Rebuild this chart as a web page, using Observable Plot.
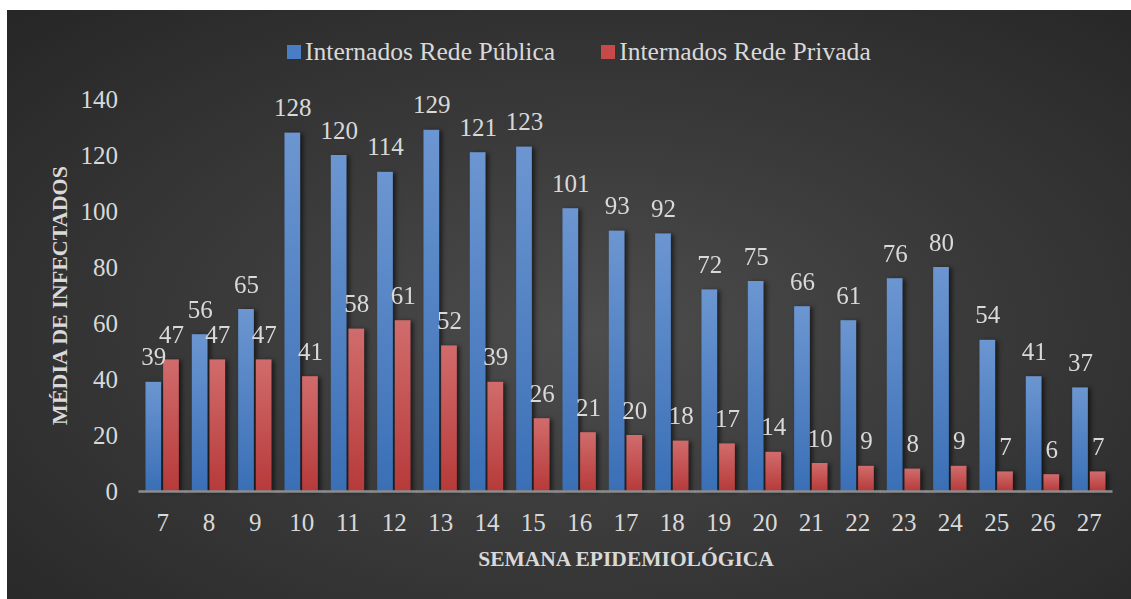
<!DOCTYPE html>
<html>
<head>
<meta charset="utf-8">
<script src="https://cdn.jsdelivr.net/npm/d3@7"></script>
<script src="https://cdn.jsdelivr.net/npm/@observablehq/plot@0.6"></script>
<style>
  html, body { margin: 0; padding: 0; background: #ffffff; }
  #panel {
    position: absolute; left: 7px; top: 10px; width: 1124px; height: 589px; overflow: hidden;
    background: radial-gradient(ellipse farthest-corner at 52% 55%, #4d4d4d 0%, #3a3a3a 45%, #262626 100%);
    font-family: "Liberation Serif", serif;
  }
  #legend {
    height: 60px; box-sizing: border-box; padding-left: 280px; padding-top: 24px;
    display: flex; align-items: center; gap: 46px; color: #d9d9d9; font-size: 25.6px; line-height: 28px;
  }
  .item { display: flex; align-items: center; gap: 4px; white-space: nowrap; }
  .sw { width: 14px; height: 14px; display: inline-block; }
  #chart svg g[aria-label="bar"] { filter: drop-shadow(3px 1px 2px rgba(0,0,0,0.55)); }
  #chart svg g[aria-label="y-axis label"] text { font-weight: bold; font-size: 22px; }
  #chart svg g[aria-label="fx-axis label"] text { font-weight: bold; font-size: 21.5px; }
</style>
</head>
<body>
<div id="panel">
  <div id="legend"></div>
  <div id="chart"></div>
</div>
<script>
const weeks = [7, 8, 9, 10, 11, 12, 13, 14, 15, 16, 17, 18, 19, 20, 21, 22, 23, 24, 25, 26, 27];
const publica = [39, 56, 65, 128, 120, 114, 129, 121, 123, 101, 93, 92, 72, 75, 66, 61, 76, 80, 54, 41, 37];
const privada = [47, 47, 47, 41, 58, 61, 52, 39, 26, 21, 20, 18, 17, 14, 10, 9, 8, 9, 7, 6, 7];
const seriesNames = ["Internados Rede Pública", "Internados Rede Privada"];
const seriesColors = ["#4a7ec4", "#c64a4a"];
const yTicks = [0, 20, 40, 60, 80, 100, 120, 140];
const xTitle = "SEMANA EPIDEMIOLÓGICA";
const yTitle = "MÉDIA DE INFECTADOS";

const rows = weeks.flatMap((w, i) => [
  {week: w, series: seriesNames[0], value: publica[i]},
  {week: w, series: seriesNames[1], value: privada[i]}
]);

// legend
const legend = document.getElementById("legend");
seriesNames.forEach((name, i) => {
  const item = document.createElement("div");
  item.className = "item";
  const sw = document.createElement("span");
  sw.className = "sw";
  sw.style.background = seriesColors[i];
  const t = document.createElement("span");
  t.textContent = name;
  item.append(sw, t);
  legend.append(item);
});

const chart = Plot.plot({
  width: 1124,
  height: 529,
  marginTop: 29,
  marginBottom: 108,
  marginLeft: 132,
  marginRight: 19,
  style: {background: "transparent", color: "#d9d9d9", fontFamily: "'Liberation Serif', serif", fontSize: "25px"},
  fx: {domain: weeks, round: false, paddingInner: 0.28, paddingOuter: 0.14, axis: "bottom", tickSize: 0, tickPadding: 22,
       label: xTitle, labelAnchor: "center", labelOffset: 74},
  x: {domain: seriesNames, round: false, axis: null, paddingInner: 0.11, paddingOuter: 0},
  y: {domain: [0, 140], ticks: yTicks, tickSize: 0, tickPadding: 28,
      label: yTitle, labelAnchor: "center", labelOffset: 95, labelArrow: "none"},
  marks: [
    Plot.barY(rows, {filter: d => d.series === seriesNames[0], fx: "week", x: "series", y: "value", fill: "url(#gradPub)"}),
    Plot.barY(rows, {filter: d => d.series === seriesNames[1], fx: "week", x: "series", y: "value", fill: "url(#gradPriv)"}),
    Plot.ruleY([0], {stroke: "#8c8c8c", strokeWidth: 2.6, insetLeft: -7, insetRight: -7}),
    Plot.text(rows, {fx: "week", x: "series", y: "value", text: d => String(d.value), lineAnchor: "bottom", dy: -17, fill: "#d9d9d9", fontSize: 25})
  ]
});

const ns = "http://www.w3.org/2000/svg";
const defs = document.createElementNS(ns, "defs");
const grads = [["gradPub", "#6c96d1", "#3a6fb6"], ["gradPriv", "#d16c6c", "#b73a3a"]];
for (const [id, top, bottom] of grads) {
  const g = document.createElementNS(ns, "linearGradient");
  g.setAttribute("id", id);
  g.setAttribute("x1", "0"); g.setAttribute("y1", "0"); g.setAttribute("x2", "0"); g.setAttribute("y2", "1");
  const s1 = document.createElementNS(ns, "stop"); s1.setAttribute("offset", "0"); s1.setAttribute("stop-color", top);
  const s2 = document.createElementNS(ns, "stop"); s2.setAttribute("offset", "1"); s2.setAttribute("stop-color", bottom);
  g.append(s1, s2);
  defs.append(g);
}
const svgEl = chart.tagName.toLowerCase() === "svg" ? chart : chart.querySelector("svg");
svgEl.insertBefore(defs, svgEl.firstChild);
document.getElementById("chart").append(chart);
</script>
</body>
</html>
